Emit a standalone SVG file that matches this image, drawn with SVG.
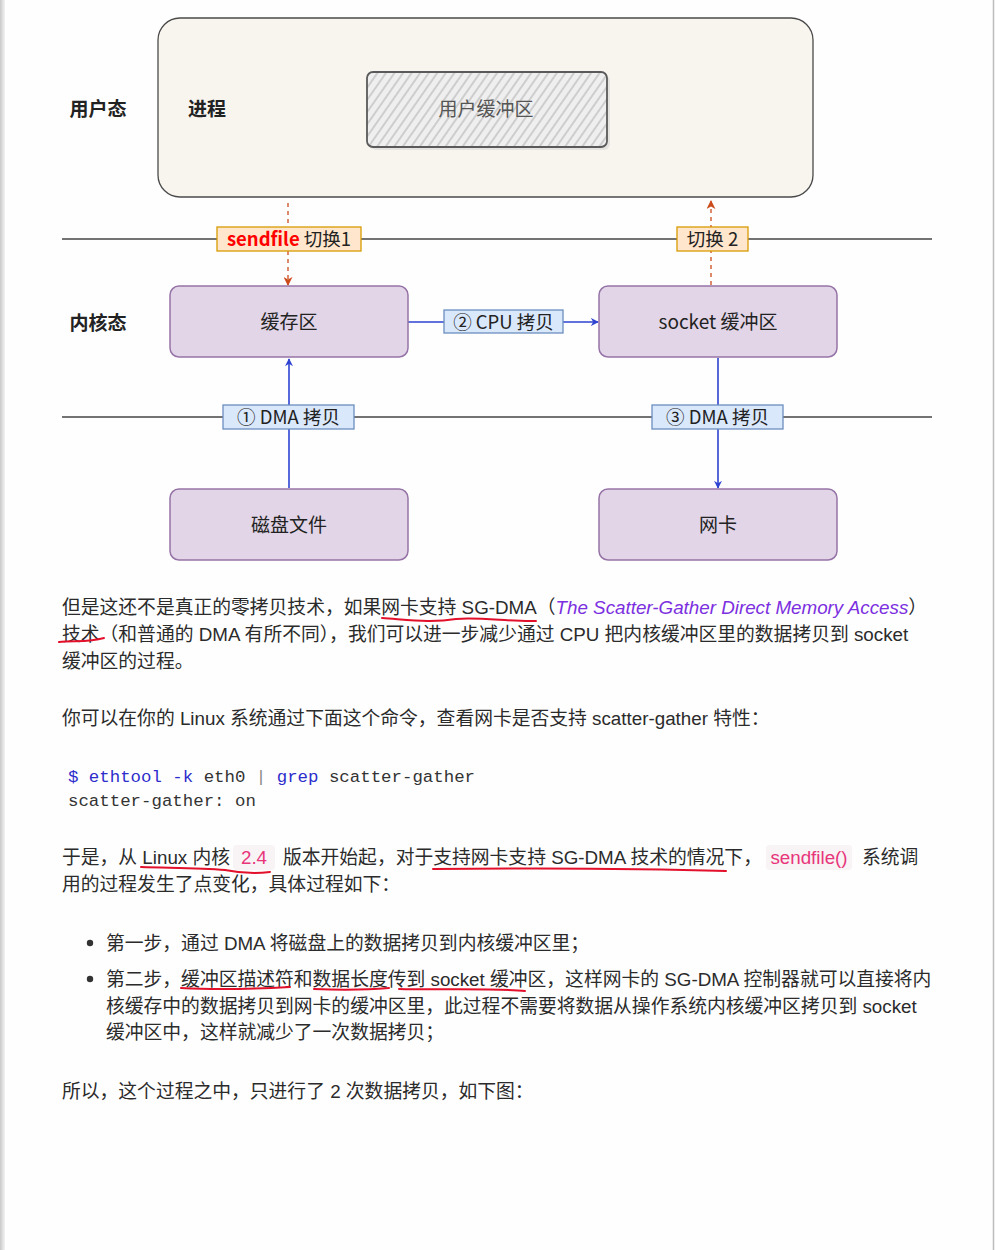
<svg xmlns="http://www.w3.org/2000/svg" width="995" height="1250" viewBox="0 0 995 1250">
<defs>
<style>
.body{font-family:"Liberation Sans","Noto Sans CJK SC",sans-serif;font-size:18.8px;fill:#2b2b2b}
.dg{font-family:"Noto Sans CJK SC","Liberation Sans",sans-serif;font-size:19px;fill:#222}
.lb{font-size:18.5px}
.bold{font-weight:bold}
.mono{font-family:"Liberation Mono","DejaVu Sans Mono",monospace;font-size:17.4px;fill:#333}
.kw{fill:#2d2dcc}
.pink{fill:#e8357a}
.purple{fill:#7b2fe0;font-style:italic}
.node{fill:#e1d5e7;stroke:#9673a6;stroke-width:1.5}
.lbl-o{fill:#ffe6cc;stroke:#d79b00;stroke-width:1.3}
.lbl-b{fill:#dae8fc;stroke:#6c8ebf;stroke-width:1.3}
.sep{stroke:#444;stroke-width:1.6}
.blue{stroke:#2e43d1;stroke-width:1.6;fill:none}
.dash{stroke:#cc4b1c;stroke-width:1.3;fill:none;stroke-dasharray:4 4}
.ul{stroke:#e3102b;stroke-width:2;fill:none;stroke-linecap:round}
.codebg{fill:#f8f3f5}
</style>
<marker id="ab" viewBox="0 0 10 10" refX="9" refY="5" markerWidth="8" markerHeight="8" markerUnits="userSpaceOnUse" orient="auto"><path d="M0,0 L10,5 L0,10 L3,5 z" fill="#2e43d1"/></marker>
<marker id="ao" viewBox="0 0 10 10" refX="9" refY="5" markerWidth="9" markerHeight="9" markerUnits="userSpaceOnUse" orient="auto"><path d="M0,0 L10,5 L0,10 L3,5 z" fill="#cc4b1c"/></marker>
<pattern id="hatch" width="7" height="7" patternUnits="userSpaceOnUse" patternTransform="rotate(35)"><rect width="7" height="7" fill="#efefef"/><line x1="1" y1="0" x2="1" y2="7" stroke="#a5a5a5" stroke-width="0.9"/></pattern>
<linearGradient id="lg" x1="0" x2="1" y1="0" y2="0"><stop offset="0" stop-color="#c8c8c8"/><stop offset="1" stop-color="#f4f4f4"/></linearGradient>
</defs>
<rect width="995" height="1250" fill="#fefefe"/>
<rect x="0" y="0" width="5" height="1250" fill="url(#lg)"/>
<line x1="993.5" y1="0" x2="993.5" y2="1250" stroke="#bdbdbd" stroke-width="1.5"/>

<!-- diagram -->
<g id="user-space">
<rect x="158" y="18" width="655" height="179" rx="22" fill="#f7f5ee" stroke="#4a4a4a" stroke-width="1.3"/>
<text class="dg bold" x="98" y="116" text-anchor="middle">用户态</text>
<text class="dg bold" x="207" y="116" text-anchor="middle">进程</text>
</g>
<g id="user-buffer">
<rect x="370" y="75" width="240" height="75" rx="6" fill="#d8d8d8" opacity="0.6"/>
<rect x="367" y="72" width="240" height="75" rx="6" fill="url(#hatch)" stroke="#5a5a5a" stroke-width="1.8"/>
<text class="dg" x="486" y="116" text-anchor="middle" style="fill:#555">用户缓冲区</text>
</g>
<g id="separators">
<line class="sep" x1="62" y1="239" x2="932" y2="239"/>
<line class="sep" x1="62" y1="417" x2="932" y2="417"/>
<text class="dg bold" x="98" y="330" text-anchor="middle">内核态</text>
</g>
<g id="connectors">
<line class="dash" x1="288" y1="203" x2="288" y2="285" marker-end="url(#ao)"/>
<line class="dash" x1="711" y1="285" x2="711" y2="201" marker-end="url(#ao)"/>
<line class="blue" x1="408" y1="322" x2="598" y2="322" marker-end="url(#ab)"/>
<line class="blue" x1="289" y1="488" x2="289" y2="359" marker-end="url(#ab)"/>
<line class="blue" x1="718" y1="358" x2="718" y2="488" marker-end="url(#ab)"/>
</g>
<g id="lbl-sendfile">
<rect class="lbl-o" x="217" y="227" width="144" height="24"/>
<text class="dg lb" x="289" y="246" text-anchor="middle"><tspan style="fill:#f00;font-weight:bold">sendfile</tspan> 切换1</text>
</g>
<g id="lbl-switch2">
<rect class="lbl-o" x="677" y="227" width="71" height="24"/>
<text class="dg lb" x="712.5" y="246" text-anchor="middle">切换 2</text>
</g>
<g id="node-cache">
<rect class="node" x="170" y="286" width="238" height="71" rx="9"/>
<text class="dg" x="289" y="329" text-anchor="middle">缓存区</text>
</g>
<g id="node-socket">
<rect class="node" x="599" y="286" width="238" height="71" rx="9"/>
<text class="dg" x="718" y="329" text-anchor="middle">socket 缓冲区</text>
</g>
<g id="lbl-cpu">
<rect class="lbl-b" x="444" y="310" width="119" height="23"/>
<text class="dg lb" x="503.5" y="328.5" text-anchor="middle">② CPU 拷贝</text>
</g>
<g id="lbl-dma1">
<rect class="lbl-b" x="223" y="405" width="131" height="24"/>
<text class="dg lb" x="288.5" y="423.5" text-anchor="middle">① DMA 拷贝</text>
</g>
<g id="lbl-dma3">
<rect class="lbl-b" x="652" y="405" width="131" height="24"/>
<text class="dg lb" x="717.5" y="423.5" text-anchor="middle">③ DMA 拷贝</text>
</g>
<g id="node-disk">
<rect class="node" x="170" y="489" width="238" height="71" rx="9"/>
<text class="dg" x="289" y="532" text-anchor="middle">磁盘文件</text>
</g>
<g id="node-nic">
<rect class="node" x="599" y="489" width="238" height="71" rx="9"/>
<text class="dg" x="718" y="532" text-anchor="middle">网卡</text>
</g>

<!-- article text -->
<g id="article">
<text class="body" x="62" y="614">但是这还不是真正的零拷贝技术，如果网卡支持 SG-DMA（<tspan class="purple">The Scatter-Gather Direct Memory Access</tspan>）</text>
<text class="body" x="62" y="641">技术（和普通的 DMA 有所不同），我们可以进一步减少通过 CPU 把内核缓冲区里的数据拷贝到 socket</text>
<text class="body" x="62" y="668">缓冲区的过程。</text>
<path class="ul" d="M382,618 C411,620 431,623 456,619 C481,617 511,622 536,621"/>
<path class="ul" d="M59,642 C72,640 88,643 104,638"/>

<text class="body" x="62" y="725">你可以在你的 Linux 系统通过下面这个命令，查看网卡是否支持 scatter-gather 特性：</text>

<text class="mono" x="68" y="782"><tspan class="kw">$ ethtool -k</tspan> eth0 <tspan style="fill:#888">|</tspan> <tspan class="kw">grep</tspan> scatter-gather</text>
<text class="mono" x="68" y="806">scatter-gather: on</text>

<rect class="codebg" x="233" y="845" width="42" height="25" rx="4"/>
<rect class="codebg" x="766" y="845" width="86" height="25" rx="4"/>
<text class="body" x="62" y="864">于是，从 Linux 内核</text>
<text class="body pink" x="254" y="864" text-anchor="middle">2.4</text>
<text class="body" x="283" y="864">版本开始起，对于支持网卡支持 SG-DMA 技术的情况下，</text>
<text class="body pink" x="809" y="864" text-anchor="middle">sendfile()</text>
<text class="body" x="862" y="864">系统调</text>
<text class="body" x="62" y="891">用的过程发生了点变化，具体过程如下：</text>
<path class="ul" d="M141,867 C170,868 200,868 225,870 C240,873 255,874 270,872"/>
<path class="ul" d="M433,869 C530,868 630,868 726,871"/>

<circle cx="90" cy="943" r="3.2" fill="#333"/>
<text class="body" x="106" y="950">第一步，通过 DMA 将磁盘上的数据拷贝到内核缓冲区里；</text>
<circle cx="90" cy="979" r="3.2" fill="#333"/>
<text class="body" x="106" y="986">第二步，缓冲区描述符和数据长度传到 socket 缓冲区，这样网卡的 SG-DMA 控制器就可以直接将内</text>
<text class="body" x="106" y="1013">核缓存中的数据拷贝到网卡的缓冲区里，此过程不需要将数据从操作系统内核缓冲区拷贝到 socket</text>
<text class="body" x="106" y="1039">缓冲区中，这样就减少了一次数据拷贝；</text>
<path class="ul" d="M181,988 C215,990 255,989 290,987"/>
<path class="ul" d="M314,989 C340,990 365,990 389,988"/>
<path class="ul" d="M399,989 C440,990 500,988 525,991"/>

<text class="body" x="62" y="1098">所以，这个过程之中，只进行了 2 次数据拷贝，如下图：</text>
</g>
</svg>
